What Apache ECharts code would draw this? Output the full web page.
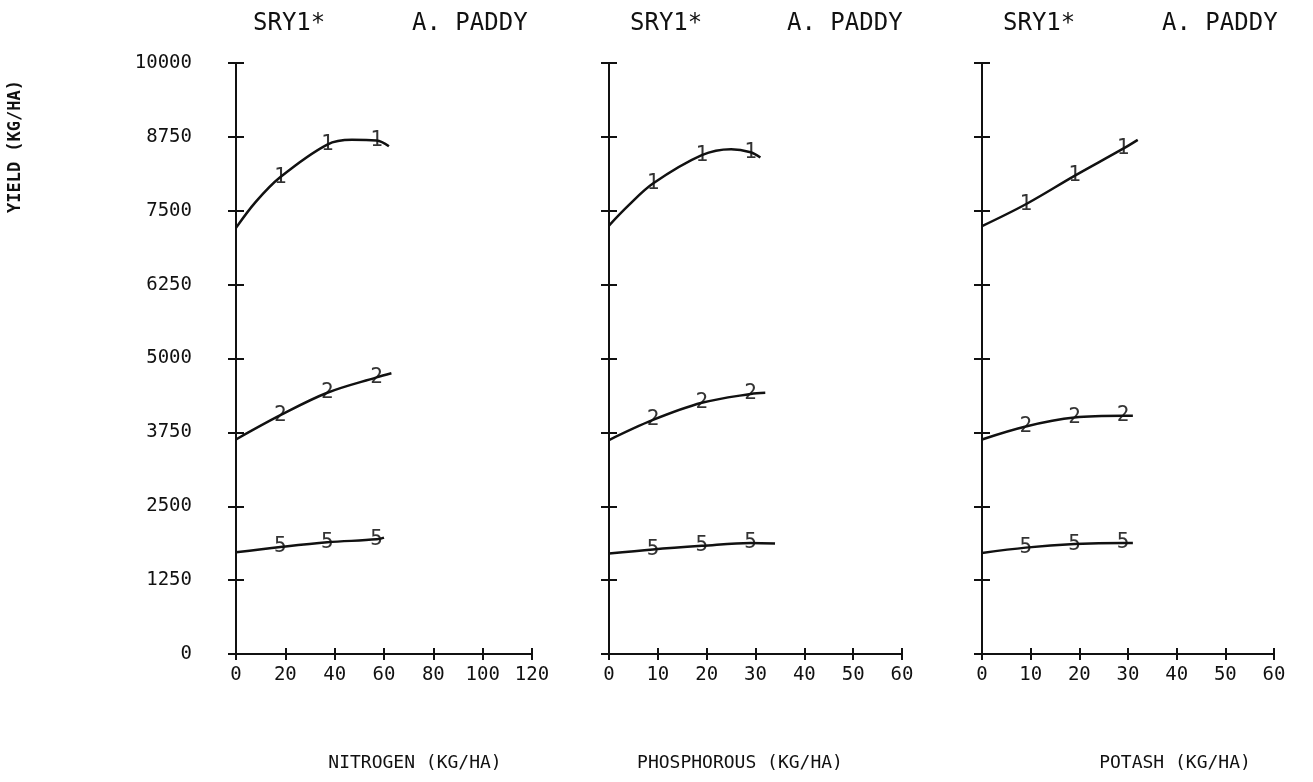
<!DOCTYPE html>
<html>
<head>
<meta charset="utf-8">
<script src="https://cdn.jsdelivr.net/npm/echarts@6/dist/echarts.min.js"></script>
<style>
  html, body { margin: 0; padding: 0; background: #fff; }
  #chart { width: 1313px; height: 782px; }
</style>
</head>
<body>
<div id="chart"></div>
<script>
// y ticks shared by all three panels
const yMax = 10000
const yStep = 1250

// x axes: nitrogen 0-120, phosphorous / potash 0-60
const xMaxes = [120, 60, 60]
const xSteps = [20, 10, 10]
const xTitles = ['NITROGEN (KG/HA)', 'PHOSPHOROUS (KG/HA)', 'POTASH (KG/HA)']

// curve points [kg/ha nutrient, yield]
const nitrogen1 = [[0, 7210], [8, 7650], [18, 8070], [37, 8620], [47, 8700], [57, 8690], [62, 8590]]
const nitrogen2 = [[0, 3630], [18, 4040], [37, 4420], [57, 4680], [63, 4750]]
const nitrogen5 = [[0, 1720], [18, 1810], [37, 1890], [57, 1940], [60, 1970]]
const nitrogenMarks = [18, 37, 57]

const phos1 = [[0, 7250], [4, 7590], [9, 7960], [19, 8440], [25, 8540], [29, 8490], [31, 8400]]
const phos2 = [[0, 3620], [9, 3960], [19, 4250], [29, 4400], [32, 4420]]
const phos5 = [[0, 1700], [9, 1770], [19, 1830], [29, 1880], [34, 1870]]
const phosMarks = [9, 19, 29]

const potash1 = [[0, 7240], [9, 7610], [19, 8090], [29, 8550], [32, 8700]]
const potash2 = [[0, 3630], [9, 3850], [19, 4000], [29, 4030], [31, 4030]]
const potash5 = [[0, 1710], [9, 1800], [19, 1860], [29, 1880], [31, 1880]]
const potashMarks = [9, 19, 29]

const curveIds = ['1', '2', '5']
const panels = [
  { curves: [nitrogen1, nitrogen2, nitrogen5], marks: nitrogenMarks },
  { curves: [phos1, phos2, phos5], marks: phosMarks },
  { curves: [potash1, potash2, potash5], marks: potashMarks }
]

const gridLefts = [236, 609, 982]
const gridWidths = [296, 293, 292]
const mono = 'DejaVu Sans Mono'
const ink = '#111'

const grids = []
const xAxes = []
const yAxes = []
const series = []

panels.forEach((p, i) => {
  grids.push({ left: gridLefts[i], top: 63, width: gridWidths[i], height: 591 })
  // two axes per direction so ticks cross the axis line like the plotter marks
  const xBase = { type: 'value', gridIndex: i, position: 'bottom', min: 0, max: xMaxes[i], interval: xSteps[i], splitLine: { show: false } }
  xAxes.push(Object.assign({}, xBase, {
    axisLine: { show: true, lineStyle: { color: ink, width: 2 } },
    axisTick: { show: true, length: 6, lineStyle: { color: ink, width: 2 } },
    axisLabel: { show: true, margin: 12, color: ink, fontFamily: mono, fontSize: 19 }
  }))
  xAxes.push(Object.assign({}, xBase, {
    axisLine: { show: true, lineStyle: { color: ink, width: 2 } },
    axisTick: { show: true, inside: true, length: 6, lineStyle: { color: ink, width: 2 } },
    axisLabel: { show: false }
  }))
  const yBase = { type: 'value', gridIndex: i, position: 'left', min: 0, max: yMax, interval: yStep, splitLine: { show: false } }
  yAxes.push(Object.assign({}, yBase, {
    axisLine: { show: true, lineStyle: { color: ink, width: 2 } },
    axisTick: { show: true, length: 8, lineStyle: { color: ink, width: 2 } },
    axisLabel: { show: i === 0, margin: 44, color: ink, fontFamily: mono, fontSize: 19, formatter: v => String(v) }
  }))
  yAxes.push(Object.assign({}, yBase, {
    axisLine: { show: true, lineStyle: { color: ink, width: 2 } },
    axisTick: { show: true, inside: true, length: 8, lineStyle: { color: ink, width: 2 } },
    axisLabel: { show: false }
  }))

  p.curves.forEach((c, k) => {
    series.push({
      type: 'line',
      xAxisIndex: i * 2,
      yAxisIndex: i * 2,
      data: c,
      smooth: 0.35,
      symbol: 'none',
      lineStyle: { color: ink, width: 2.5 },
      silent: true
    })
    // curve number written on the line at the observed levels
    series.push({
      type: 'scatter',
      xAxisIndex: i * 2,
      yAxisIndex: i * 2,
      data: c.filter(pt => p.marks.includes(pt[0])),
      symbolSize: 1,
      itemStyle: { color: 'rgba(0,0,0,0)' },
      label: {
        show: true,
        position: 'inside',
        formatter: curveIds[k],
        color: '#000',
        fontFamily: mono,
        fontSize: 21
      },
      silent: true
    })
  })
})

const titles = []
const titleSRY = [248, 625, 998]
const titlePaddy = [407, 782, 1157]
const xTitleCenters = [410, 735, 1170]
for (let i = 0; i < 3; i++) {
  titles.push({ text: 'SRY1*', left: titleSRY[i], top: 7, textStyle: { fontFamily: mono, fontSize: 24, fontWeight: 'normal', color: ink } })
  titles.push({ text: 'A. PADDY', left: titlePaddy[i], top: 7, textStyle: { fontFamily: mono, fontSize: 24, fontWeight: 'normal', color: ink } })
  titles.push({ text: xTitles[i], left: xTitleCenters[i], top: 749, textAlign: 'center', textStyle: { fontFamily: mono, fontSize: 18, fontWeight: 'normal', color: ink } })
}

const chart = echarts.init(document.getElementById('chart'))
chart.setOption({
  backgroundColor: '#fff',
  animation: false,
  title: titles,
  graphic: [{
    type: 'text',
    left: 7,
    top: 80,
    rotation: Math.PI / 2,
    style: { text: 'YIELD (KG/HA)', font: 'bold 17px "DejaVu Sans Mono"', fill: ink }
  }],
  grid: grids,
  xAxis: xAxes,
  yAxis: yAxes,
  series: series
})
</script>
</body>
</html>
